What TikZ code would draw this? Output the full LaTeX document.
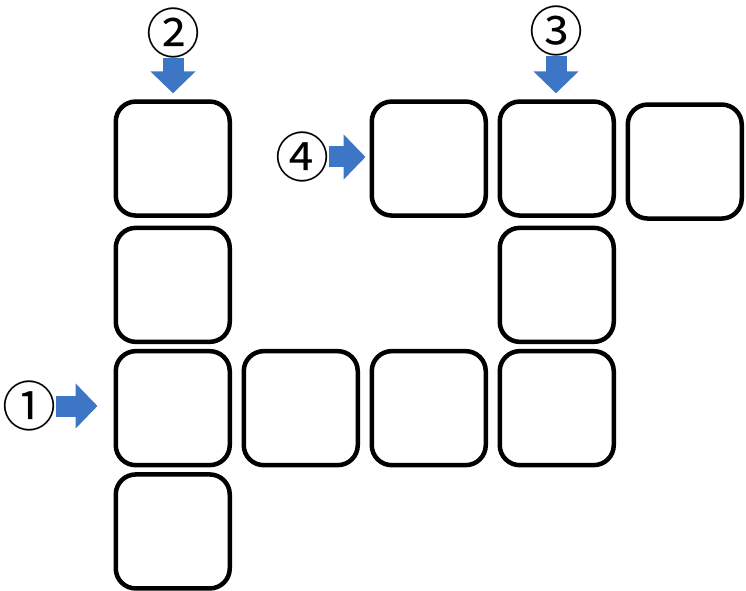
\documentclass[tikz,border=0pt]{standalone}
\usepackage{fontspec}
\newfontfamily\jpfont{Noto Sans CJK JP}
\usepackage{tikz}
\usetikzlibrary{matrix,arrows.meta,positioning}
\definecolor{arrowblue}{RGB}{60,118,196}
\tikzset{
	cell/.style={draw,line width=4.5pt,rounded corners=20pt,minimum size=114pt,inner sep=0pt},
	num/.style={inner sep=0pt,font=\jpfont\fontsize{54}{54}\selectfont},
	push/.style={draw=arrowblue,line width=21pt,-{Triangle[width=44pt,length=22pt]}}
}

\begin{document}
\begin{tikzpicture}[x=1pt,y=1pt]
		\useasboundingbox (0,0) rectangle (746,590);
		\matrix (m) at (428.75,245) [matrix of nodes,nodes={cell},row sep=4.8pt,column sep=9.5pt]
		{
			{} &    & {} & {} & |[yshift=-3pt]| {} \\
			{} &    &    & {} &    \\
			{} & {} & {} & {} &    \\
			{} &    &    &    &    \\};
		\node[num] (n1) at (29,184) {①};
		\node[num] (n2) at (173,557) {②};
		\node[num] (n3) at (556,559) {③};
		\node[num] (n4) at (302,433) {④};
		\draw[push,shorten >=16pt] (n1.east) -- (n1.east -| m-3-1.west);
		\draw[push,shorten >=6pt] (n2.south) -- (n2.south |- m-1-1.north);
		\draw[push,shorten >=6pt] (n3.south) -- (n3.south |- m-1-4.north);
		\draw[push,shorten >=4pt] (n4.east) -- (n4.east -| m-1-3.west);
	\end{tikzpicture}
\end{document}
